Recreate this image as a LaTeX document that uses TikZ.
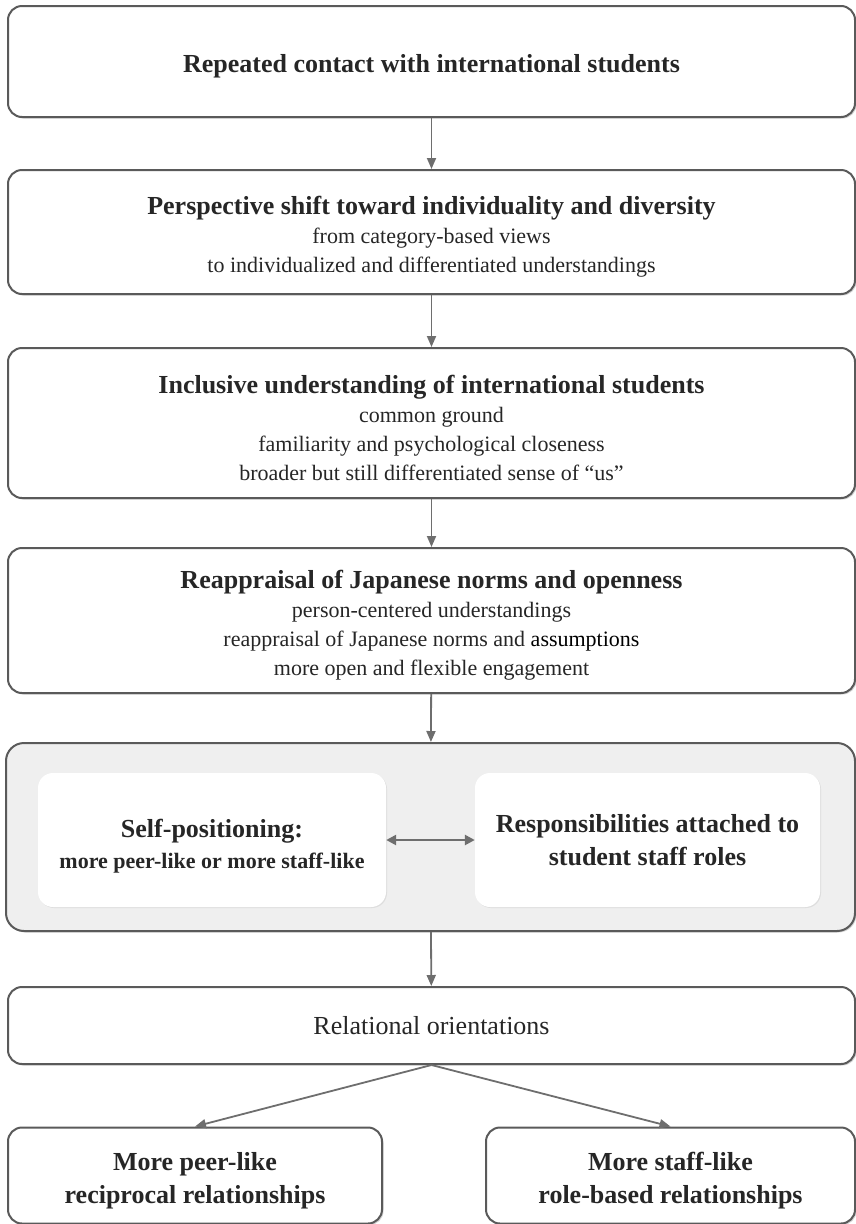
\documentclass[tikz,border=0pt]{standalone}
\usepackage{fontspec}
\setmainfont{Liberation Serif}
\usetikzlibrary{arrows.meta,shadows}
\definecolor{borde}{HTML}{5A5A5A}
\definecolor{flecha}{HTML}{6E6E6E}
\definecolor{fondo}{HTML}{EFEFEF}
\definecolor{texto}{HTML}{262626}
\newcommand{\titulo}[1]{{\fontsize{26}{31}\selectfont\bfseries\rule{0pt}{28pt}#1}}

\begin{document}
\begin{tikzpicture}[x=1pt,y=-1pt,
	caja/.style={draw=borde,line width=2pt,rounded corners=14pt,fill=white,align=center,
		text=texto,inner sep=0pt,font=\fontsize{22}{29}\selectfont,
		drop shadow={shadow xshift=1.5pt,shadow yshift=-1.5pt,opacity=.35}},
	ancha/.style={caja,minimum width=847pt},
	grupo/.style={draw=borde,line width=2pt,rounded corners=18pt,fill=fondo,minimum width=849pt,
		drop shadow={shadow xshift=1.5pt,shadow yshift=-1.5pt,opacity=.35}},
	interna/.style={fill=white,rounded corners=15pt,align=center,text=texto,inner sep=0pt,
		minimum height=134pt,font=\fontsize{26}{33}\selectfont\bfseries,
		drop shadow={shadow xshift=1pt,shadow yshift=-1pt,opacity=.15}},
	final/.style={caja,minimum height=96pt,font=\fontsize{26}{33}\selectfont\bfseries},
	flechaest/.style={draw=flecha,line width=1.8pt,-{Triangle[length=11pt,width=9pt]}},
	doble/.style={draw=flecha,line width=2.5pt,{Triangle[length=10pt,width=10pt]}-{Triangle[length=10pt,width=10pt]}}]
	\useasboundingbox (0,0) rectangle (856,1224);

	% Etapas
	\node[ancha,minimum height=111pt] (contacto) at (431.5,61.5) {\titulo{Repeated contact with international students}};
	\node[ancha,minimum height=124pt] (perspectiva) at (431.5,232) {\titulo{Perspective shift toward individuality and diversity}\\
		from category-based views\\ to individualized and differentiated understandings};
	\node[ancha,minimum height=150pt] (inclusiva) at (431.5,423) {\titulo{Inclusive understanding of international students}\\
		common ground\\ familiarity and psychological closeness\\ broader but still differentiated sense of “us”};
	\node[ancha,minimum height=145pt] (normas) at (431.5,620.5) {\titulo{Reappraisal of Japanese norms and openness}\\
		person-centered understandings\\ reappraisal of Japanese norms and \textcolor{black}{assumptions}\\ more open and flexible engagement};

	% Bloque gris
	\node[grupo,minimum height=188pt] (bloque) at (430.5,837) {};
	\node[interna,minimum width=348pt] (autopos) at (212,840) {\rule{0pt}{30pt}Self-positioning:\\[-2pt]
		{\fontsize{22}{26}\selectfont more peer-like or more staff-like}};
	\node[interna,minimum width=345pt] (resp) at (647.5,840) {Responsibilities attached to\\ student staff roles};

	\node[ancha,minimum height=77pt,font=\fontsize{26}{31}\selectfont] (relacional) at (431.5,1025.5) {Relational orientations};
	\node[final,minimum width=374pt] (par) at (195,1175.5) {\rule{0pt}{28pt}More peer-like\\ reciprocal relationships};
	\node[final,minimum width=369pt] (personal) at (670.5,1175.5) {\rule{0pt}{28pt}More staff-like\\ role-based relationships};

	% Flechas
	\draw[flechaest] (contacto) -- (perspectiva);
	\draw[flechaest] (perspectiva) -- (inclusiva);
	\draw[flechaest] (inclusiva) -- (normas);
	\draw[flechaest] (normas) -- (bloque);
	\draw[doble] (autopos) -- (resp);
	\draw[flechaest] (bloque) -- (relacional);
	\draw[flechaest] (relacional.south) -- (par.north);
	\draw[flechaest] (relacional.south) -- (personal.north);
\end{tikzpicture}
\end{document}
